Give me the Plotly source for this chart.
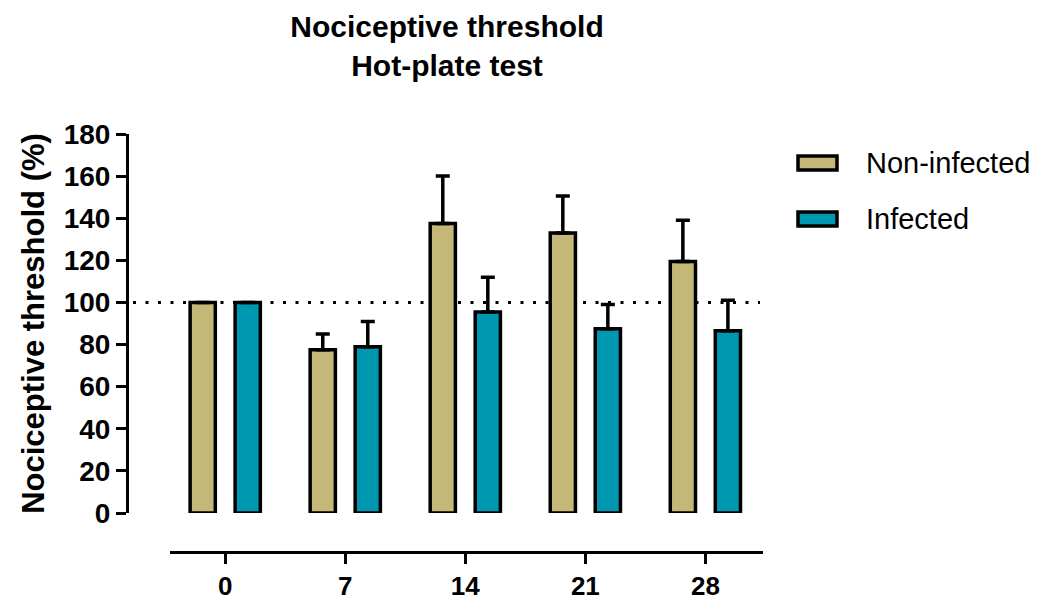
import plotly.graph_objects as go

days = ["0", "7", "14", "21", "28"]
series_names = ["Non-infected", "Infected"]
non_infected = [100, 77.5, 137.5, 133, 119.5]
non_infected_err = [0, 7.5, 22.5, 17.5, 19.5]
infected = [100, 79, 95.5, 87.5, 86.5]
infected_err = [0, 12, 16.5, 11.5, 14.5]
colors = ["#C4B778", "#0098B0"]
y_ticks = [0, 20, 40, 60, 80, 100, 120, 140, 160, 180]
reference_level = 100

W, H = 1039, 601
ml, mr, mt, mb = 127, 276, 134, 49
pw, ph = W - ml - mr, H - mt - mb

def px_x(p):
    return (p - ml) / pw

def px_y(p):
    return (H - mb - p) / ph

FONT = "Liberation Sans, Arial, sans-serif"

fig = go.Figure()
for name, vals, errs, col in [
    (series_names[0], non_infected, non_infected_err, colors[0]),
    (series_names[1], infected, infected_err, colors[1]),
]:
    fig.add_trace(go.Bar(
        x=days, y=vals, name=name, showlegend=False,
        marker=dict(color=col, line=dict(color="black", width=3.5)),
        error_y=dict(type="data", symmetric=False, array=errs,
                     arrayminus=[0] * len(errs), color="black",
                     thickness=3.5, width=7),
    ))

# dotted reference line at 100 %
fig.add_shape(type="line", xref="paper", yref="y",
              x0=px_x(133), x1=px_x(760), y0=reference_level, y1=reference_level,
              line=dict(color="black", width=3, dash="3px,9.5px"), layer="below")

# manual legend
for i, (name, col) in enumerate(zip(series_names, colors)):
    cy = 163 + i * 56
    fig.add_shape(type="rect", xref="paper", yref="paper",
                  x0=px_x(798), x1=px_x(837), y0=px_y(cy - 7), y1=px_y(cy + 7),
                  fillcolor=col, line=dict(color="black", width=3.5))
    fig.add_annotation(xref="paper", yref="paper", x=px_x(864), y=px_y(cy),
                       xanchor="left", yanchor="middle", showarrow=False,
                       text=name, font=dict(family=FONT, size=29, color="black"))

fig.update_layout(
    width=W, height=H,
    margin=dict(l=ml, r=mr, t=mt, b=mb, autoexpand=False),
    paper_bgcolor="white", plot_bgcolor="white",
    barmode="group", bargap=0.25, bargroupgap=0.44,
    showlegend=False,
    title=dict(text="<b>Nociceptive threshold<br>Hot-plate test</b>",
               x=px_x(447), xanchor="center", xref="paper",
               y=1 - 37 / H, yanchor="top", yref="container",
               font=dict(family=FONT, size=30, color="black")),
    font=dict(family=FONT, color="black"),
    xaxis=dict(type="category", domain=[px_x(170), 1], range=[-0.46, 4.48],
               anchor="free", position=0,
               showline=True, linecolor="black", linewidth=3,
               ticks="outside", ticklen=10, tickwidth=3, tickcolor="black",
               showgrid=False, zeroline=False,
               tickfont=dict(family=FONT, size=26, color="black"),
               ticklabelstandoff=0),
    yaxis=dict(domain=[px_y(513), 1], range=[0, 180],
               anchor="free", position=0,
               tickvals=y_ticks, ticktext=[f"<b>{v}</b>" for v in y_ticks],
               showline=True, linecolor="black", linewidth=3,
               ticks="outside", ticklen=10, tickwidth=3, tickcolor="black",
               showgrid=False, zeroline=False,
               tickfont=dict(family=FONT, size=28, color="black"),
               title=dict(text="<b>Nociceptive threshold (%)</b>", standoff=8,
                          font=dict(family=FONT, size=31, color="black"))),
)
fig.update_xaxes(ticktext=[f"<b>{d}</b>" for d in days], tickvals=days)

fig.write_html("out.html", config={"displayModeBar": False},
               post_script="document.body.style.margin='0';document.body.style.overflow='hidden';")
